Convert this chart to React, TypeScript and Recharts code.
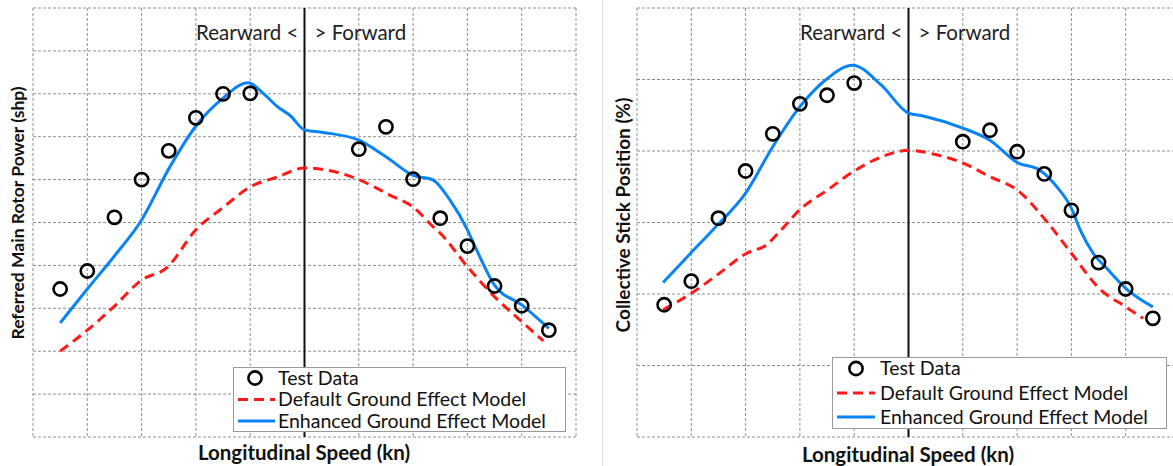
import React from "react";
import { ComposedChart, Line, Scatter, XAxis, YAxis, CartesianGrid, ReferenceLine } from "recharts";

// ---------- data ----------
const xTicks = [0, 1, 2, 3, 4, 5, 6, 7, 8, 9, 10];
const powerTicks = [0, 1, 2, 3, 4, 5, 6, 7, 8, 9, 10];
const stickTicks = [0, 1, 2, 3, 4, 5, 6];

// Left panel: Referred Main Rotor Power
const testSpeedL = [0.5, 1, 1.5, 2, 2.5, 3, 3.5, 4, 6, 6.5, 7, 7.5, 8, 8.5, 9, 9.5];
const testPowerL = [3.45, 3.87, 5.12, 6.0, 6.67, 7.44, 8.0, 8.01, 6.71, 7.23, 6.01, 5.1, 4.45, 3.52, 3.06, 2.49];

const enhSpeedL = [0.5, 1, 1.5, 2, 2.5, 3, 3.5, 3.96, 4.25, 4.5, 4.73, 5.0, 5.34, 6.0, 6.5, 7.0, 7.37, 7.68, 8.0, 8.17, 8.5, 9.0, 9.5];
const enhPowerL = [2.66, 3.45, 4.22, 5.06, 6.25, 7.25, 7.9, 8.26, 8.0, 7.7, 7.5, 7.16, 7.1, 6.92, 6.53, 6.1, 5.99, 5.52, 4.83, 4.36, 3.54, 3.08, 2.53];

const defSpeedL = [0.5, 1.0, 1.5, 2.0, 2.46, 3.0, 3.5, 4.0, 4.5, 5.0, 5.5, 6.0, 6.57, 7.0, 7.37, 7.5, 8.0, 8.5, 9.0, 9.4];
const defPowerL = [2.0, 2.49, 3.05, 3.66, 3.94, 4.83, 5.35, 5.83, 6.06, 6.27, 6.2, 6.0, 5.64, 5.36, 4.9, 4.75, 3.97, 3.27, 2.69, 2.24];

// Right panel: Collective Stick Position
const testSpeedR = [0.5, 1, 1.5, 2, 2.5, 3, 3.5, 4, 6, 6.5, 7, 7.5, 8, 8.5, 9, 9.5];
const testStickR = [1.85, 2.18, 3.06, 3.72, 4.24, 4.66, 4.78, 4.95, 4.13, 4.29, 3.99, 3.68, 3.17, 2.44, 2.07, 1.66];

const enhSpeedR = [0.48, 1.0, 1.4, 2.0, 2.5, 3.0, 3.5, 3.97, 4.5, 5.0, 5.27, 6.0, 6.5, 7.0, 7.42, 7.73, 8.0, 8.16, 8.4, 8.65, 9.0, 9.5];
const enhStickR = [2.16, 2.58, 2.9, 3.41, 4.06, 4.62, 5.01, 5.2, 4.92, 4.53, 4.49, 4.32, 4.15, 3.84, 3.73, 3.5, 3.2, 2.9, 2.57, 2.36, 2.08, 1.82];

const defSpeedR = [0.48, 1.0, 1.5, 2.02, 2.39, 2.66, 3.0, 3.5, 3.98, 4.51, 5.01, 5.5, 6.01, 6.5, 7.01, 7.55, 8.0, 8.51, 9.0, 9.32];
const defStickR = [1.78, 2.01, 2.28, 2.57, 2.69, 2.9, 3.18, 3.45, 3.71, 3.92, 4.01, 3.95, 3.83, 3.64, 3.45, 3.01, 2.57, 2.08, 1.82, 1.66];

const legendLabels = ["Test Data", "Default Ground Effect Model", "Enhanced Ground Effect Model"];
const dividerSpeed = 5;

// ---------- helpers ----------
const toPts = (xs: number[], ys: number[]) => xs.map((x, i) => ({ x, y: ys[i] }));

const FONT = "Lato, 'Open Sans', sans-serif";
const BLUE = "#0a84f5";
const RED = "#ff1a1a";
const GRID = "#8f8f8f";

const NoTick = () => <g />;

const Ring = (props: any) => (
  <circle cx={props.cx} cy={props.cy} r={6.6} fill="none" stroke="#000" strokeWidth={2.6} />
);

const DirLabel = (props: any) => {
  const vb = props.viewBox || {};
  const x = vb.x ?? 0;
  const y = vb.y ?? 0;
  return (
    <g fontFamily={FONT} fontSize={20.5} fill="#222">
      <text x={x - 6} y={y + 32} textAnchor="end">Rearward &lt;</text>
      <text x={x + 10} y={y + 32} textAnchor="start">&gt; Forward</text>
    </g>
  );
};

type PanelProps = {
  left: number;
  margin: { top: number; right: number; bottom: number; left: number };
  yMax: number;
  yTicks: number[];
  test: { x: number; y: number }[];
  enh: { x: number; y: number }[];
  def: { x: number; y: number }[];
};

const Panel = ({ left, margin, yMax, yTicks, test, enh, def }: PanelProps) => (
  <div style={{ position: "absolute", left, top: 0 }}>
    <ComposedChart width={600} height={466} margin={margin}>
      <CartesianGrid stroke={GRID} strokeDasharray="3 2" strokeWidth={1} />
      <XAxis
        type="number"
        dataKey="x"
        domain={[0, 10]}
        ticks={xTicks}
        interval={0}
        tick={<NoTick />}
        tickLine={false}
        axisLine={{ stroke: GRID, strokeWidth: 1.2 }}
        height={0}
        allowDataOverflow
      />
      <YAxis
        type="number"
        dataKey="y"
        domain={[0, yMax]}
        ticks={yTicks}
        interval={0}
        tick={<NoTick />}
        tickLine={false}
        axisLine={false}
        width={0}
        allowDataOverflow
      />
      <ReferenceLine x={dividerSpeed} stroke="#111" strokeWidth={2} label={<DirLabel />} />
      <Line
        data={def}
        dataKey="y"
        type="monotone"
        stroke={RED}
        strokeWidth={3}
        strokeDasharray="10 6"
        dot={false}
        activeDot={false}
        isAnimationActive={false}
      />
      <Line
        data={enh}
        dataKey="y"
        type="monotone"
        stroke={BLUE}
        strokeWidth={3}
        dot={false}
        activeDot={false}
        isAnimationActive={false}
      />
      <Scatter data={test} dataKey="y" shape={<Ring />} isAnimationActive={false} />
    </ComposedChart>
  </div>
);

type LegendProps = {
  left: number;
  top: number;
  width: number;
  height: number;
  rows: number[];
  iconX: number;
  lineX0: number;
  lineX1: number;
  textX: number;
};

const LegendBox = ({ left, top, width, height, rows, iconX, lineX0, lineX1, textX }: LegendProps) => (
  <div
    style={{
      position: "absolute",
      left,
      top,
      width,
      height,
      boxSizing: "border-box",
      border: "1.5px solid #9a9a9a",
      background: "#fff",
    }}
  >
    <svg width={width} height={height} style={{ position: "absolute", left: -1.5, top: -1.5, overflow: "visible" }}>
      <circle cx={iconX} cy={rows[0]} r={6.6} fill="none" stroke="#000" strokeWidth={2.6} />
      <line x1={lineX0} x2={lineX1} y1={rows[1]} y2={rows[1]} stroke={RED} strokeWidth={3} strokeDasharray="10 6" />
      <line x1={lineX0} x2={lineX1} y1={rows[2]} y2={rows[2]} stroke={BLUE} strokeWidth={3} />
      {legendLabels.map((t, i) => (
        <text key={t} x={textX} y={rows[i] + 6.5} fontFamily={FONT} fontSize={19.5} fill="#111">
          {t}
        </text>
      ))}
    </svg>
  </div>
);

const AxisTitle = ({ x, y, text, rotate, size }: { x: number; y: number; text: string; rotate?: boolean; size: number }) => (
  <div
    style={{
      position: "absolute",
      left: x,
      top: y,
      transform: `translate(-50%, -50%)${rotate ? " rotate(-90deg)" : ""}`,
      whiteSpace: "nowrap",
      fontFamily: FONT,
      fontWeight: 700,
      fontSize: size,
      color: "#111",
      lineHeight: 1,
    }}
  >
    {text}
  </div>
);

export default function App() {
  return (
    <div
      style={{
        position: "fixed",
        left: 0,
        top: 0,
        width: 1173,
        height: 466,
        overflow: "hidden",
        background: "#fff",
      }}
    >
      <Panel
        left={0}
        margin={{ top: 8, right: 24, bottom: 29, left: 33 }}
        yMax={10}
        yTicks={powerTicks}
        test={toPts(testSpeedL, testPowerL)}
        enh={toPts(enhSpeedL, enhPowerL)}
        def={toPts(defSpeedL, defPowerL)}
      />
      <Panel
        left={600}
        margin={{ top: 8, right: 20, bottom: 29, left: 37 }}
        yMax={6}
        yTicks={stickTicks}
        test={toPts(testSpeedR, testStickR)}
        enh={toPts(enhSpeedR, enhStickR)}
        def={toPts(defSpeedR, defStickR)}
      />
      <div style={{ position: "absolute", left: 602, top: 0, width: 1, height: 466, background: "#dcdcdc" }} />
      <LegendBox left={233} top={367} width={333} height={65} rows={[11, 32.5, 54]} iconX={22} lineX0={5} lineX1={42} textX={45} />
      <LegendBox left={832} top={357} width={335} height={72} rows={[11.5, 36, 60]} iconX={24} lineX0={5} lineX1={43} textX={48} />
      <AxisTitle x={18} y={213} text="Referred Main Rotor Power (shp)" rotate size={17.5} />
      <AxisTitle x={304} y={452} text="Longitudinal Speed (kn)" size={20.5} />
      <AxisTitle x={622} y={215} text="Collective Stick Position (%)" rotate size={19} />
      <AxisTitle x={908} y={454} text="Longitudinal Speed (kn)" size={20.5} />
    </div>
  );
}
